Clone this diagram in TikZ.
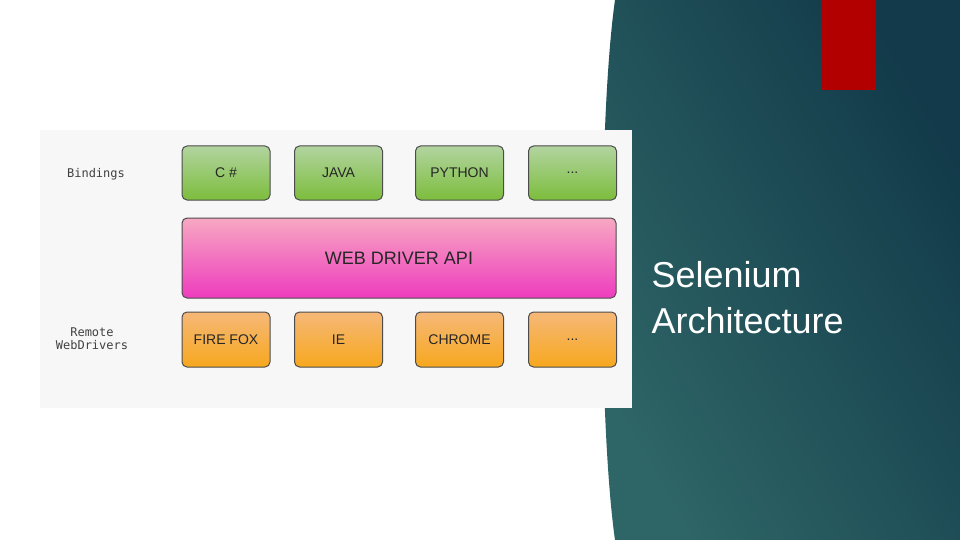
\documentclass[tikz,border=0pt]{standalone}
\usepackage{fontspec}
\setmainfont{Liberation Sans}
\newfontfamily\labfont{DejaVu Sans Mono}
\definecolor{pnlA}{HTML}{2E6566}
\definecolor{pnlB}{HTML}{123A4A}
\definecolor{gTop}{HTML}{B2D4A0}
\definecolor{gBot}{HTML}{7CBD3C}
\definecolor{pTop}{HTML}{F7A8C2}
\definecolor{pBot}{HTML}{EE3CBE}
\definecolor{oTop}{HTML}{F6B878}
\definecolor{oBot}{HTML}{F7A81E}
\begin{document}
\begin{tikzpicture}[x=1pt,y=-1pt,
  box/.style={draw=black!70,line width=1pt,rounded corners=5pt,inner sep=0pt,font=\fontsize{14}{16}\selectfont,text=black!85},
  gbox/.style={box,top color=gTop,bottom color=gBot,minimum width=88,minimum height=54},
  obox/.style={box,top color=oTop,bottom color=oBot,minimum width=88,minimum height=55},
  side/.style={font=\labfont\fontsize{12}{13}\selectfont,text=black!75,align=center}]
\useasboundingbox (0,0) rectangle (960,540);
\fill[white] (0,0) rectangle (960,540);
\shade[left color=pnlA,right color=pnlB,shading angle=120] (615,0) .. controls (598,120) and (598,420) .. (615,540) -- (960,540) -- (960,0) -- cycle;
\fill[red!70!black] (822,0) rectangle (876,90);
\fill[black!3] (40,130) rectangle (632,408);
\node[gbox] (cs) at (226,173) {C \#};
\node[gbox] (java) at (338.5,173) {JAVA};
\node[gbox] (py) at (459.5,173) {PYTHON};
\node[gbox] (gd) at (572.5,173) {...};
\node[box,top color=pTop,bottom color=pBot,minimum width=434,minimum height=80,font=\fontsize{18}{20}\selectfont] (api) at (399,258) {WEB DRIVER API};
\node[obox] (ff) at (226,339.5) {FIRE FOX};
\node[obox] (ie) at (338.5,339.5) {IE};
\node[obox] (ch) at (459.5,339.5) {CHROME};
\node[obox] (od) at (572.5,339.5) {...};
\node[side] (bind) at (96,174) {Bindings};
\node[side] (rem) at (92,339) {Remote\\WebDrivers};
\node[anchor=west,text=white,align=left,font=\fontsize{36}{46}\selectfont] (title) at (648,298) {Selenium\\Architecture};
\end{tikzpicture}
\end{document}
